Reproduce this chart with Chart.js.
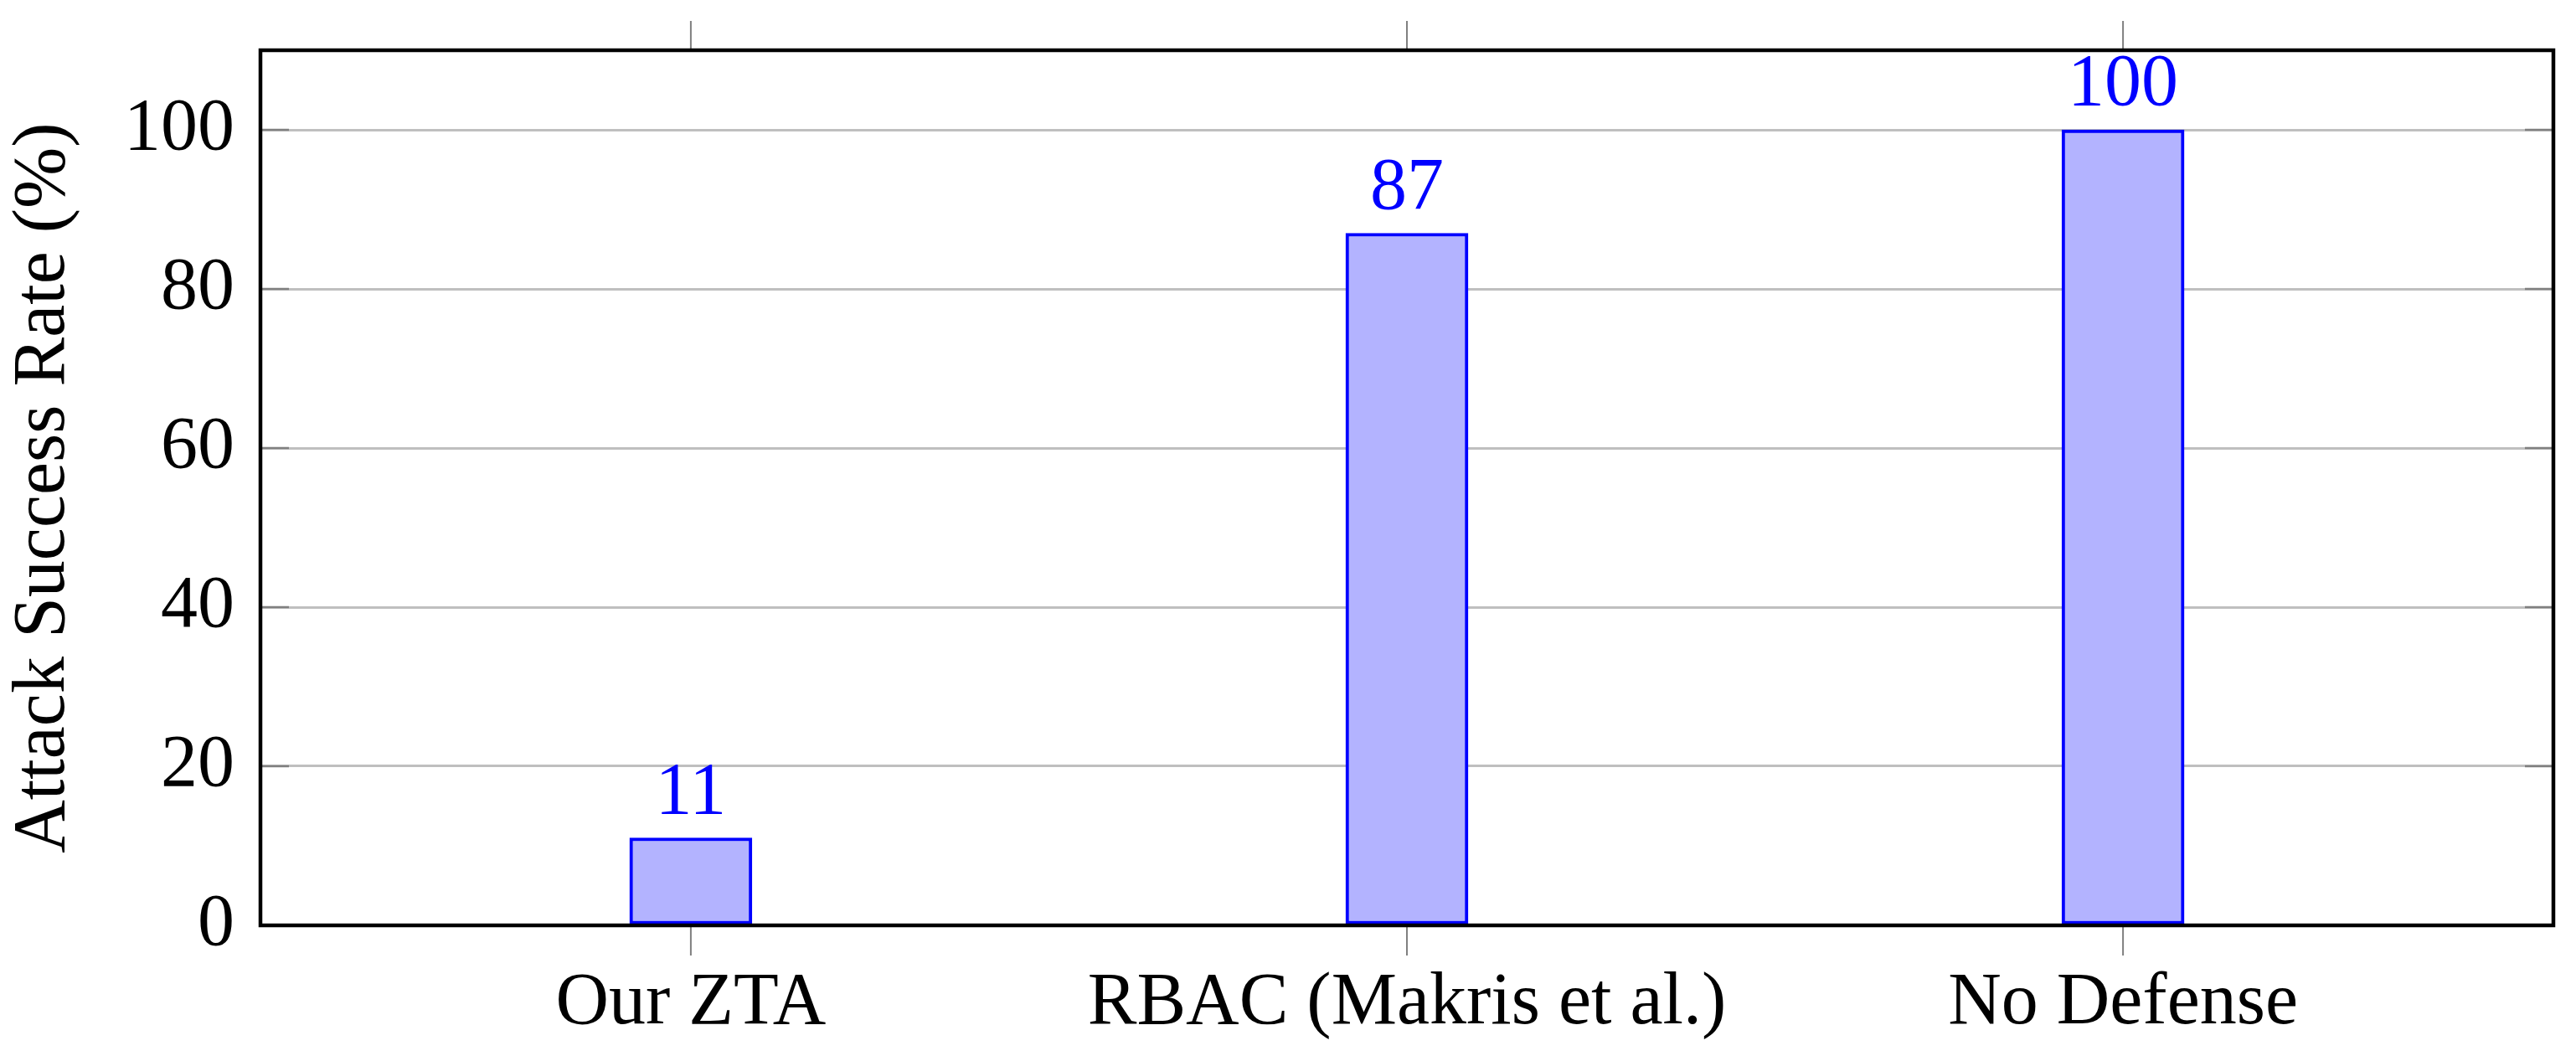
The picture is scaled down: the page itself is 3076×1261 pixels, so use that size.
<!DOCTYPE html>
<html>
<head>
<meta charset="utf-8">
<script src="https://cdn.jsdelivr.net/npm/chart.js@4.4.1/dist/chart.umd.min.js"></script>
<style>
    html, body { margin: 0; padding: 0; background: #fff; }
    #wrap { width: 3076px; height: 1261px; position: relative; }
</style>
</head>
<body>
<div id="wrap"><canvas id="asrChart"></canvas></div>
<script>
// data
const categories = ['Our ZTA', 'RBAC (Makris et al.)', 'No Defense'];
const successRates = [11, 87, 100];
const yTickValues = [0, 20, 40, 60, 80, 100];
const yLabel = 'Attack Success Rate (%)';

const FONT = '"Liberation Serif", "Times New Roman", serif';
const FONT_SIZE = 88;

// frame, inner/outer tick marks and value labels
const framePlugin = {
    id: 'frame',
    afterDatasetsDraw(chart) {
        const { ctx, chartArea: a, scales } = chart;
        ctx.save();

        // y tick marks on the inside of left and right axis
        ctx.strokeStyle = '#808080';
        ctx.lineWidth = 2.5;
        yTickValues.forEach(v => {
            const y = scales.y.getPixelForValue(v);
            ctx.beginPath();
            ctx.moveTo(a.left, y);
            ctx.lineTo(a.left + 34, y);
            ctx.moveTo(a.right, y);
            ctx.lineTo(a.right - 34, y);
            ctx.stroke();
        });

        // x tick marks outside, top and bottom
        ctx.lineWidth = 2;
        categories.forEach((c, i) => {
            const x = scales.x.getPixelForValue(i);
            ctx.beginPath();
            ctx.moveTo(x, a.bottom);
            ctx.lineTo(x, a.bottom + 36);
            ctx.moveTo(x, a.top);
            ctx.lineTo(x, a.top - 35);
            ctx.stroke();
        });

        // box
        ctx.strokeStyle = '#000';
        ctx.lineWidth = 4.5;
        ctx.strokeRect(a.left, a.top, a.right - a.left, a.bottom - a.top);

        // value labels above the bars
        const meta = chart.getDatasetMeta(0);
        ctx.fillStyle = '#0000ff';
        ctx.font = `${FONT_SIZE}px ${FONT}`;
        ctx.textAlign = 'center';
        ctx.textBaseline = 'alphabetic';
        meta.data.forEach((bar, i) => {
            ctx.fillText(String(successRates[i]), bar.x, bar.y - 30);
        });

        ctx.restore();
    }
};

document.addEventListener('DOMContentLoaded', () => {
    const ctx = document.getElementById('asrChart').getContext('2d');
    new Chart(ctx, {
        type: 'bar',
        data: {
            datasets: [{
                data: successRates.map((v, i) => ({ x: i, y: v })),
                backgroundColor: '#b3b3ff',
                borderColor: '#0000ff',
                borderWidth: 4,
                borderSkipped: false,
                barThickness: 146,
            }]
        },
        options: {
            responsive: true,
            maintainAspectRatio: false,
            devicePixelRatio: 1,
            animation: false,
            layout: { padding: { left: 0, right: 27, top: 60, bottom: 0 } },
            plugins: { legend: { display: false }, tooltip: { enabled: false } },
            scales: {
                x: {
                    type: 'linear',
                    offset: false,
                    min: -0.601,
                    max: 2.601,
                    grid: { display: false, drawTicks: false, offset: false },
                    border: { display: false },
                    afterBuildTicks: scale => {
                        scale.ticks = categories.map((c, i) => ({ value: i }));
                    },
                    afterFit: scale => {
                        scale.height = 156;
                        scale.paddingLeft = 0;
                        scale.paddingRight = 0;
                    },
                    ticks: {
                        padding: 41,
                        maxRotation: 0,
                        autoSkip: false,
                        color: '#000',
                        font: { family: FONT, size: FONT_SIZE },
                        callback: value => categories[value]
                    }
                },
                y: {
                    min: 0,
                    max: 110,
                    grid: { color: '#bfbfbf', lineWidth: 3, drawTicks: false },
                    border: { display: false },
                    afterBuildTicks: scale => {
                        scale.ticks = yTickValues.map(v => ({ value: v }));
                    },
                    afterFit: scale => {
                        scale.width = 311;
                        scale.paddingTop = 0;
                        scale.paddingBottom = 0;
                    },
                    ticks: {
                        padding: 31,
                        color: '#000',
                        font: { family: FONT, size: FONT_SIZE }
                    },
                    title: {
                        display: true,
                        text: yLabel,
                        color: '#000',
                        padding: 0,
                        font: { family: FONT, size: FONT_SIZE }
                    }
                }
            }
        },
        plugins: [framePlugin]
    });
});
</script>
</body>
</html>
